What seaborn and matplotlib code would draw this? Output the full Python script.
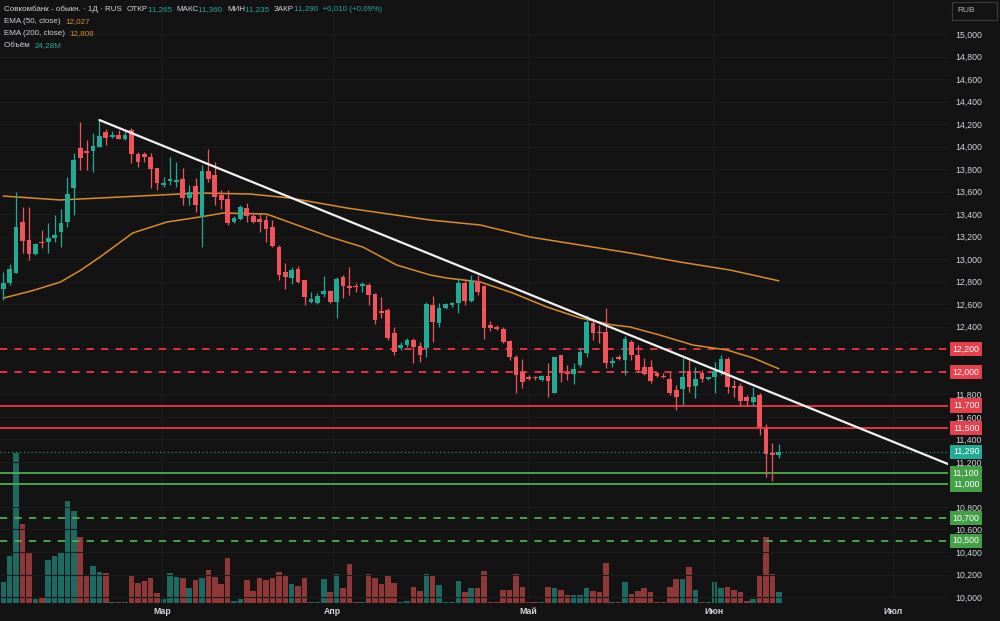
import matplotlib
matplotlib.use("Agg")
import matplotlib.pyplot as plt
import matplotlib.transforms as mtransforms
from matplotlib.patches import Rectangle
import numpy as np
import pandas as pd
import seaborn as sns

# daily candles (price in RUB, x 1000)
opens = [12735, 12786, 12880, 13333, 13171, 13046, 13156, 13150, 13185, 13239,
         13328, 13629, 13985, 13958, 13964, 13999, 14130, 14082, 14106, 14067,
         14147, 13934, 13934, 13911, 13807, 13659, 13698, 13689, 13709, 13541,
         13650, 13378, 13783, 13748, 13570, 13532, 13328, 13357, 13452, 13384,
         13357, 13348, 13289, 13106, 12883, 12830, 12916, 12815, 12623, 12614,
         12688, 12718, 12623, 12839, 12765, 12765, 12762, 12771, 12688, 12543,
         12549, 12342, 12208, 12238, 12283, 12225, 12209, 12593, 12436, 12564,
         12590, 12614, 12792, 12632, 12809, 12762, 12416, 12401, 12380, 12274,
         12135, 11995, 11957, 11950, 11927, 11966, 11809, 12149, 11990, 11981,
         12061, 12170, 12436, 12357, 12357, 12076, 12135, 12105, 12268, 12150,
         12040, 12040, 11993, 11960, 11937, 11839, 11845, 12008, 11874, 11993,
         11937, 11951, 12002, 12111, 11874, 11874, 11780, 11735, 11794, 11490,
         11276, 11265]
highs = [12889, 12957, 13600, 13467, 13467, 13141, 13259, 13319, 13393, 13443,
         13733, 13940, 14215, 14059, 14124, 14236, 14156, 14141, 14147, 14141,
         14162, 13955, 13955, 13946, 13807, 13733, 13911, 13866, 13807, 13659,
         13718, 13837, 13976, 13866, 13615, 13615, 13384, 13481, 13496, 13422,
         13407, 13393, 13348, 13126, 12969, 12934, 12940, 12815, 12706, 12697,
         12851, 12727, 12845, 12860, 12928, 12786, 12801, 12786, 12697, 12667,
         12564, 12401, 12268, 12297, 12297, 12268, 12623, 12673, 12614, 12614,
         12622, 12830, 12815, 12860, 12860, 12771, 12455, 12416, 12401, 12283,
         12149, 12111, 11972, 11966, 11975, 12081, 12135, 12149, 12060, 12075,
         12209, 12505, 12460, 12416, 12564, 12135, 12150, 12318, 12283, 12238,
         12120, 12105, 12002, 11990, 12002, 11883, 12120, 12105, 12046, 12016,
         11957, 12090, 12150, 12129, 11928, 11898, 11794, 11862, 11809, 11537,
         11365, 11360]
lows = [12638, 12771, 12875, 13052, 12993, 13037, 13097, 13052, 13156, 13111,
        13289, 13393, 13792, 13792, 13777, 13993, 14014, 14073, 14064, 14059,
        13851, 13822, 13866, 13629, 13615, 13638, 13659, 13644, 13481, 13481,
        13422, 13111, 13689, 13481, 13443, 13304, 13319, 13348, 13333, 13318,
        13245, 13156, 13111, 12815, 12733, 12780, 12786, 12593, 12608, 12602,
        12667, 12608, 12475, 12653, 12682, 12712, 12712, 12593, 12425, 12475,
        12282, 12149, 12194, 12223, 12075, 12090, 12135, 12268, 12401, 12554,
        12580, 12519, 12593, 12623, 12682, 12288, 12366, 12371, 12253, 12105,
        11809, 11853, 11927, 11930, 11920, 11779, 11809, 11913, 11930, 11892,
        12046, 12135, 12283, 12253, 12031, 12046, 12105, 11972, 12105, 12002,
        11972, 11904, 11951, 11943, 11794, 11661, 11706, 11824, 11765, 11913,
        11930, 11809, 11972, 11809, 11780, 11697, 11697, 11697, 11439, 11063,
        11034, 11235]
closes = [12786, 12910, 13283, 13162, 13046, 13132, 13147, 13191, 13215, 13319,
          13576, 13881, 13902, 13940, 14005, 14094, 14079, 14103, 14070, 14103,
          13931, 13866, 13905, 13801, 13680, 13680, 13709, 13703, 13541, 13600,
          13481, 13783, 13712, 13555, 13526, 13325, 13369, 13467, 13384, 13333,
          13328, 13265, 13117, 12860, 12839, 12904, 12801, 12661, 12647, 12673,
          12718, 12623, 12824, 12762, 12741, 12756, 12780, 12682, 12460, 12519,
          12297, 12179, 12238, 12283, 12220, 12149, 12598, 12445, 12564, 12602,
          12614, 12792, 12632, 12809, 12712, 12386, 12386, 12377, 12268, 12129,
          11972, 11913, 11939, 11942, 11966, 11921, 12129, 11987, 11980, 12022,
          12173, 12445, 12342, 12342, 12075, 12099, 12117, 12290, 12150, 12016,
          11981, 11922, 11963, 11950, 11815, 11774, 11957, 11862, 11937, 11934,
          11951, 12008, 12111, 11868, 11854, 11744, 11744, 11774, 11513, 11270,
          11265, 11290]
# volume, millions of shares
volumes = [45.6, 103.7, 331.0, 175.0, 109.6, 8.1, 13.2, 94.9, 103.7, 111.8,
           224.4, 203.8, 146.4, 58.9, 82.4, 69.2, 66.2, 2.2, 2.9, 2.9,
           60.3, 44.1, 48.6, 55.9, 22.8, 8.1, 66.2, 57.4, 54.4, 33.8,
           50.0, 55.9, 72.8, 56.6, 41.2, 99.3, 5.1, 8.1, 50.0, 26.5,
           54.4, 50.0, 54.4, 69.2, 58.9, 42.7, 36.8, 54.4, 2.9, 2.9,
           53.0, 25.0, 63.3, 32.4, 86.1, 2.9, 2.9, 64.0, 55.9, 41.9,
           58.9, 44.1, 2.9, 5.1, 35.3, 27.2, 63.3, 58.9, 39.7, 2.2,
           2.2, 48.6, 25.0, 32.4, 33.8, 69.9, 2.9, 2.2, 28.0, 28.0,
           64.0, 36.0, 2.2, 2.2, 2.2, 35.3, 32.4, 28.0, 17.7, 16.9,
           16.9, 32.4, 26.5, 23.5, 88.3, 2.2, 2.9, 47.1, 19.1, 26.5,
           33.8, 23.5, 2.2, 2.2, 35.3, 53.0, 53.0, 78.7, 28.0, 2.2,
           2.2, 45.6, 32.4, 35.3, 28.0, 25.0, 5.1, 8.1, 61.8, 145.7,
           64.7, 24.28]

ema50_idx = [0, 4.5, 8.9, 12.0, 15.1, 20.2, 25.5, 30.7, 34.3, 41.1, 45.8, 51.0,
             56.1, 61.4, 66.6, 69.2, 74.4, 79.5, 84.8, 90.0, 95.1, 97.8, 102.4,
             107.6, 112.9, 117.0, 121]
ema50_val = [12655, 12720, 12797, 12900, 13020, 13233, 13330, 13375, 13410, 13401,
             13304, 13197, 13108, 12948, 12860, 12833, 12798, 12700, 12576, 12478,
             12416, 12398, 12327, 12238, 12194, 12123, 12027]
ema200_idx = [0, 8.9, 30.7, 38.5, 44.7, 53.6, 66.6, 74.4, 82.2, 90.0, 97.8, 105.6,
              113.4, 121]
ema200_val = [13561, 13526, 13588, 13579, 13544, 13455, 13348, 13304, 13197, 13126,
              13055, 12975, 12904, 12808]

trend_idx = [15, 147.4]
trend_val = [14236, 11181]

red_solid = [11700, 11500]
red_dash = [12200, 12000]
green_solid = [11100, 11000]
green_dash = [10700, 10500]
last_close = 11290

month_labels = ["Мар", "Апр", "Май", "Июн", "Июл"]
month_pos = [24.8, 51.4, 81.9, 110.9, 138.8]

bg = "#131313"
txt = "#d1d4dc"
up_c = "#22ab94"
dn_c = "#f0545a"
up_v = "#1d6a62"
dn_v = "#8e3837"
ema_c = "#d98c2b"
red_lvl = "#f23645"
green_lvl = "#4caf50"

sns.set_theme(style="dark", rc={"axes.facecolor": bg, "figure.facecolor": bg})
plt.rcParams["font.family"] = ["Liberation Sans", "DejaVu Sans"]


def fmt(p):
    return f"{p // 1000},{p % 1000:03d}"


df = pd.DataFrame({"open": opens, "high": highs, "low": lows,
                   "close": closes, "volume": volumes})
df["idx"] = np.arange(len(df))
df["up"] = df["close"] >= df["open"]
body_col = np.where(df["up"], up_c, dn_c)
vol_col = np.where(df["up"], up_v, dn_v)

fig = plt.figure(figsize=(10, 6.21), dpi=100, facecolor=bg)
rect = [0, 18 / 621, 0.948, 603 / 621]
xlim = (-0.515, 147.4)

axv = fig.add_axes(rect)
axv.set_xlim(*xlim)
axv.set_ylim(0, 1331)
axv.bar(df["idx"], df["volume"], width=0.86, color=vol_col, linewidth=0)
axv.axis("off")

ax = fig.add_axes(rect)
ax.patch.set_visible(False)
ax.set_xlim(*xlim)
ax.set_ylim(9947, 15302)

# grid
for m in month_pos:
    ax.axvline(m, color="#1b1b1b", lw=0.8, zorder=0)
for p in range(10000, 15001, 200):
    ax.axhline(p, color="#1b1b1b", lw=0.8, zorder=0)

# levels
for p in red_dash:
    ax.axhline(p, color=red_lvl, lw=1.3, ls=(0, (4, 4)), zorder=1)
for p in red_solid:
    ax.axhline(p, color=red_lvl, lw=1.3, zorder=1)
for p in green_solid:
    ax.axhline(p, color=green_lvl, lw=1.3, zorder=1)
for p in green_dash:
    ax.axhline(p, color=green_lvl, lw=1.3, ls=(0, (4, 4)), zorder=1)
ax.axhline(last_close, color=up_c, lw=0.8, ls=(0, (1, 2.5)), zorder=1)

# EMA lines
sns.lineplot(x=ema200_idx, y=ema200_val, ax=ax, color=ema_c, lw=1.1, zorder=2)
sns.lineplot(x=ema50_idx, y=ema50_val, ax=ax, color=ema_c, lw=1.1, zorder=2)

# candles
ax.vlines(df["idx"], df["low"], df["high"], colors=body_col, lw=0.9, zorder=3)
body_low = np.minimum(df["open"], df["close"])
body_h = np.maximum((df["close"] - df["open"]).abs(), 10)
ax.bar(df["idx"], body_h, bottom=body_low, width=0.74, color=body_col,
       linewidth=0, zorder=4)

# trend line
sns.lineplot(x=trend_idx, y=trend_val, ax=ax, color="#f2f2f2", lw=1.6, zorder=5)

# price tags drawn on the scale replace these tick labels
tagged = set(red_dash + red_solid + green_solid + green_dash)

for s in ax.spines.values():
    s.set_visible(False)
ax.yaxis.tick_right()
ticks = list(range(10000, 15001, 200))
ax.set_yticks(ticks)
ax.set_yticklabels(["" if t in tagged else fmt(t) for t in ticks],
                   fontsize=6.3, color=txt)
ax.tick_params(axis="y", length=0, pad=5)
ax.set_xticks(month_pos)
ax.set_xticklabels(month_labels, fontsize=6.3, color=txt, fontweight="bold")
ax.tick_params(axis="x", length=0, pad=3)
ax.set_xlabel("")
ax.set_ylabel("")
ax.grid(False)

tr = mtransforms.blended_transform_factory(fig.transFigure, ax.transData)


def tag(price, color):
    ax.text(0.966, price, fmt(price), transform=tr,
            ha="center", va="center", fontsize=6.3, color="white", zorder=10,
            bbox=dict(boxstyle="square,pad=0.3", fc=color, ec="none"),
            clip_on=False)


for p in red_dash + red_solid:
    tag(p, "#e5404c")
for p in green_solid + green_dash:
    tag(p, "#43a047")
tag(last_close, up_c)

# RUB box
fig.patches.append(Rectangle((0.952, 1 - 20 / 621), 0.045, 18 / 621,
                             transform=fig.transFigure, fc=bg, ec="#3a3a3a", lw=0.8))
fig.text(0.957, 1 - 11 / 621, "RUB", ha="left", va="center", fontsize=6, color="#b2b5be")


# legend lines at the top left
def legend_line(y, parts):
    prev = fig.text(0.004, 1 - (y + 4) / 621, parts[0][0], ha="left", va="bottom",
                    fontsize=5.8, color=parts[0][1])
    for s, c in parts[1:]:
        prev = ax.annotate(s, xy=(1, 0), xycoords=prev, ha="left", va="bottom",
                           fontsize=5.8, color=c, annotation_clip=False)


legend_line(9, [("Совкомбанк - обыкн. · 1Д · RUS  ", txt), ("ОТКР", txt),
                ("11,265  ", up_c), ("МАКС", txt), ("11,360  ", up_c),
                ("МИН", txt), ("11,235  ", up_c), ("ЗАКР", txt),
                ("11,290  +0,010 (+0,09%)", up_c)])
legend_line(21, [("EMA (50, close)  ", txt), ("12,027", ema_c)])
legend_line(33, [("EMA (200, close)  ", txt), ("12,808", ema_c)])
legend_line(45, [("Объём  ", txt), ("24,28M", up_c)])

fig.savefig("out.png", dpi=100, facecolor=bg)
